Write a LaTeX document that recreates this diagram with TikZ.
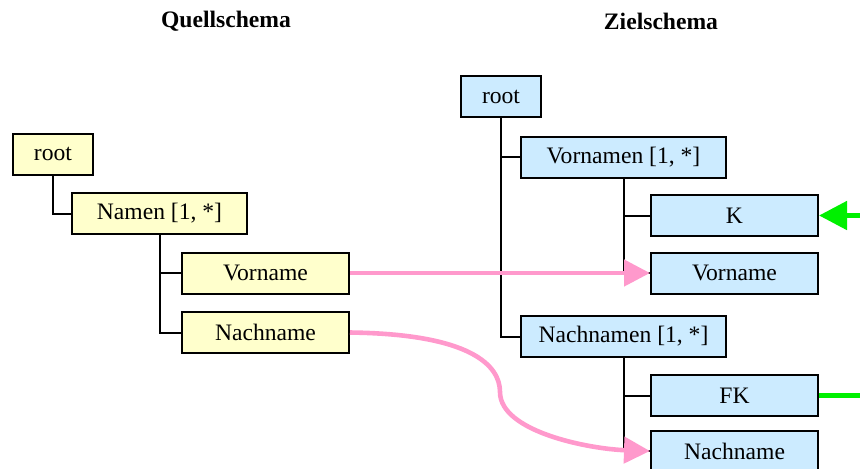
\documentclass[tikz,border=0pt]{standalone}
\usepackage{fontspec}
\setmainfont{Liberation Serif}
\usetikzlibrary{arrows.meta,positioning}
\definecolor{quellgelb}{RGB}{255,255,204}
\definecolor{zielblau}{RGB}{204,235,255}
\definecolor{mappink}{RGB}{255,153,204}
\definecolor{keygruen}{RGB}{0,240,0}
\tikzstyle{elem} = [
  rectangle, draw, line width = 1pt, text centered, inner sep = 0pt,
  minimum height = 20.5pt, font = \fontsize{11.8}{14}\selectfont
]
\tikzstyle{quelle} = [elem, fill = quellgelb]
\tikzstyle{ziel} = [elem, fill = zielblau]
\tikzstyle{baum} = [line width = 1pt]
\tikzstyle{mapping} = [
  mappink, line width = 2.3pt, -{Triangle[length=13pt, width=13pt]}
]

\begin{document}
\begin{tikzpicture}[x=0.5pt, y=-0.5pt]
    \useasboundingbox (0,0) rectangle (860,468);
    \node[font=\fontsize{11.8}{14}\selectfont\bfseries] (qtitle) at (226,21) {Quellschema};
    \node[font=\fontsize{11.8}{14}\selectfont\bfseries] (ztitle) at (661,21) {Zielschema};

    % Quellschema
    \node[quelle, minimum width=40pt] (qroot) at (53,154) {root};
    \node[quelle, minimum width=87.5pt] (qnamen) at (159.5,213.5) {Namen [1, *]};
    \node[quelle, minimum width=83.5pt] (qvor) at (265.5,273) {Vorname};
    \node[quelle, minimum width=83.5pt] (qnach) at (265.5,332.5) {Nachname};

    \draw[baum] (qroot.south) |- (qnamen.west);
    \draw[baum] (qnamen.south) |- (qvor.west);
    \draw[baum] (qnamen.south) |- (qnach.west);

    % Zielschema
    \node[ziel, minimum width=40pt] (zroot) at (501,96.5) {root};
    \node[ziel, minimum width=102.5pt] (zvornamen) at (623.5,157) {Vornamen [1, *]};
    \node[ziel, minimum width=83.5pt] (zk) at (734.5,215.5) {K};
    \node[ziel, minimum width=83.5pt] (zvor) at (734.5,273) {Vorname};
    \node[ziel, minimum width=102.5pt] (znachnamen) at (623.5,336.5) {Nachnamen [1, *]};
    \node[ziel, minimum width=83.5pt] (zfk) at (734.5,395.5) {FK};
    \node[ziel, minimum width=83.5pt] (znach) at (734.5,451) {Nachname};

    \draw[baum] (zroot.south) |- (zvornamen.west);
    \draw[baum] (zroot.south) |- (znachnamen.west);
    \draw[baum] (zvornamen.south) |- (zk.west);
    \draw[baum] (zvornamen.south) |- (zvor.west);
    \draw[baum] (znachnamen.south) |- (zfk.west);
    \draw[baum] (znachnamen.south) |- (znach.west);

    % Abbildungen
    \draw[mapping] (qvor.east) -- (zvor.west);
    \draw[mapping] (qnach.east) .. controls (470,334) and (500,365) .. (500,392)
      .. controls (500,432) and (590,449) .. (znach.west);

    % Schluessel
    \coordinate (kin) at (860,215.5);
    \coordinate (fkout) at (860,395.5);
    \draw[keygruen, line width=2.5pt, -{Triangle[length=14pt, width=14pt]}] (kin) -- (zk.east);
    \draw[keygruen, line width=2.5pt] (zfk.east) -- (fkout);
\end{tikzpicture}
\end{document}
